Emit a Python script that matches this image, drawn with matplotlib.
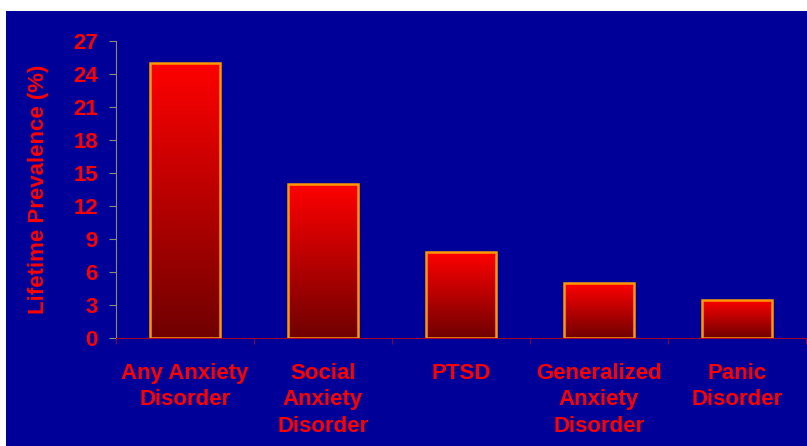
import numpy as np
import matplotlib
matplotlib.use("Agg")
import matplotlib.pyplot as plt
from matplotlib.patches import Rectangle
from matplotlib.colors import LinearSegmentedColormap

categorias = ["Any Anxiety\nDisorder", "Social\nAnxiety\nDisorder", "PTSD",
	"Generalized\nAnxiety\nDisorder", "Panic\nDisorder"]
prevalencia = [25.0, 14.0, 7.8, 5.0, 3.5]
yticks = [0, 3, 6, 9, 12, 15, 18, 21, 24, 27]

azul = "#000099"
vermelho = "#FF0000"
laranja = "#FF9900"

plt.rcParams['font.family'] = ['Liberation Sans', 'DejaVu Sans']
plt.rcParams['font.weight'] = 'bold'

fig = plt.figure(figsize=(8.07, 4.46), dpi=100)
fig.patch.set_facecolor("white")
fig.patches.append(Rectangle((6/807, 0), 1, 1 - 11/446, transform=fig.transFigure,
	facecolor=azul, edgecolor="none", zorder=-5))

ax = fig.add_axes([116/807, 108/446, 690/807, 297/446])
ax.set_facecolor(azul)
ax.set_zorder(2)

x = np.arange(len(categorias))
barras = ax.bar(x, prevalencia, width=0.51, facecolor="none", edgecolor=laranja,
	linewidth=1.8, zorder=3)

# gradiente vermelho -> marrom em cada barra
cmap = LinearSegmentedColormap.from_list("grad", ["#700000", "#FF0000"])
grad = np.linspace(0, 1, 256).reshape(-1, 1)
for b in barras:
	x0 = b.get_x()
	w = b.get_width()
	h = b.get_height()
	img = ax.imshow(grad, extent=[x0, x0 + w, 0, h], origin="lower", aspect="auto",
		cmap=cmap, zorder=2)
	img.set_clip_path(b)

ax.set_xlim(-0.5, 4.5)
ax.set_ylim(0, 27)
ax.set_yticks(yticks)
ax.set_xticks(x)
ax.set_xticklabels(categorias, fontsize=16, color=vermelho, fontweight="bold",
	linespacing=1.33)
ax.set_xticks(np.arange(-0.5, 5, 1), minor=True)
ax.tick_params(axis="x", which="major", length=0, pad=18)
ax.tick_params(axis="x", which="minor", length=4, color="#A00030", direction="out")
ax.tick_params(axis="y", length=5, color="#8C8C6E", pad=8, labelsize=16,
	labelcolor=vermelho)

for s in ["top", "right"]:
	ax.spines[s].set_visible(False)
ax.spines["left"].set_color("#8C8C6E")
ax.spines["bottom"].set_color("#A00030")

ax.set_ylabel("Lifetime Prevalence (%)", fontsize=16, color=vermelho,
	fontweight="bold", labelpad=17)

fig.savefig("out.png", dpi=100, facecolor=fig.get_facecolor())
